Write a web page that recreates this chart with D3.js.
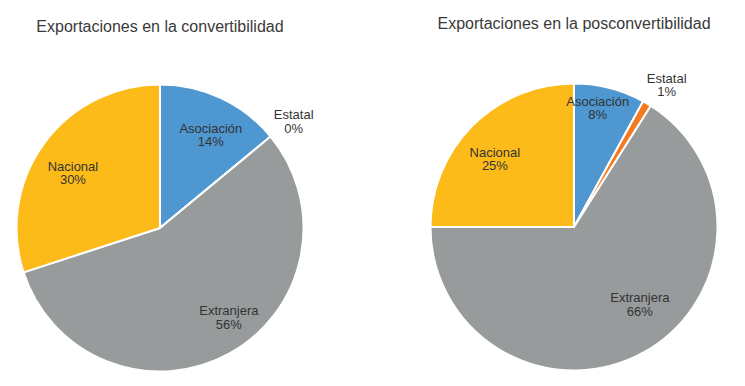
<!DOCTYPE html>
<html>
<head>
<meta charset="utf-8">
<script src="https://cdn.jsdelivr.net/npm/d3@7"></script>
<style>
    body { margin: 0; background: #fff; }
    svg { display: block; font-family: "Liberation Sans", Arial, sans-serif; }
</style>
</head>
<body>
<div id="chart"></div>
<script>
// datos
const categories = ["Asociación", "Estatal", "Extranjera", "Nacional"];
const convertibilidad = [14, 0, 56, 30];
const posconvertibilidad = [8, 1, 66, 25];
const titles = ["Exportaciones en la convertibilidad", "Exportaciones en la posconvertibilidad"];
const colors = ["#4e97d1", "#f47a20", "#989b9c", "#fdbb1a"];

const width = 745, height = 386;
const radius = 143.5;

const svg = d3.select("#chart").append("svg")
    .attr("width", width)
    .attr("height", height);

const color = d3.scaleOrdinal().domain(categories).range(colors);

const pie = d3.pie().sort(null);
const arc = d3.arc().innerRadius(0).outerRadius(radius);
const labelArc = d3.arc().innerRadius(radius * 0.75).outerRadius(radius * 0.75);
const outerArc = d3.arc().innerRadius(radius * 1.2).outerRadius(radius * 1.2);

// ajustes finos de las etiquetas (px), por categoría
const charts = [
    { title: titles[0], values: convertibilidad, cx: 160, cy: 228, ty: 32,
      shift: [[5, 2], [1, 1], [17, -7], [0, 6]] },
    { title: titles[1], values: posconvertibilidad, cx: 574, cy: 227, ty: 29,
      shift: [[-3, -17], [5, 4], [14, -19], [-3, 6]] }
];

charts.forEach(c => {
    svg.append("text")
        .attr("x", c.cx)
        .attr("y", c.ty)
        .attr("text-anchor", "middle")
        .attr("font-size", 16)
        .attr("fill", "#3a3a3a")
        .text(c.title);

    const g = svg.append("g")
        .attr("transform", "translate(" + c.cx + "," + c.cy + ")");

    const arcs = pie(c.values).map((d, i) => Object.assign(d, { name: categories[i] }));

    g.selectAll("path")
        .data(arcs)
        .enter()
        .append("path")
        .attr("d", arc)
        .attr("fill", d => color(d.name))
        .attr("stroke", "#fff")
        .attr("stroke-width", 2)
        .attr("stroke-linejoin", "round");

    const labels = g.selectAll("text")
        .data(arcs)
        .enter()
        .append("text")
        .attr("text-anchor", "middle")
        .attr("font-size", 13)
        .attr("fill", "#333")
        .attr("transform", (d, i) => {
            const p = (d.value < 2 ? outerArc : labelArc).centroid(d);
            return "translate(" + (p[0] + c.shift[i][0]) + "," + (p[1] + c.shift[i][1]) + ")";
        });
    labels.append("tspan").attr("x", 0).attr("dy", 0).text(d => d.name);
    labels.append("tspan").attr("x", 0).attr("dy", 13.5).text(d => d.value + "%");
});
</script>
</body>
</html>
